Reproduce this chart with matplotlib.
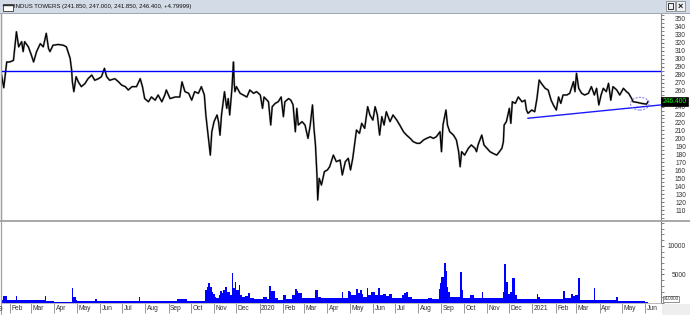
import matplotlib
matplotlib.use("Agg")
import matplotlib.pyplot as plt
import matplotlib.dates as mdates
import matplotlib.patches as mpatches
import matplotlib.transforms as mtransforms
from matplotlib.ticker import MultipleLocator, FixedLocator, FuncFormatter
import numpy as np
import pandas as pd

# ---------------- data ----------------
title = "INDUS TOWERS (241.850, 247.000, 241.850, 246.400, +4.79999)"
last_price = 246.4
last_label = "246.400"
resistance = 284.7
support_days = [725, 903]
support_vals = [225.3, 242.0]
highlight_day = 875
highlight_price = 243.6

# days counted from 2019-01-01
price_days = [19, 22, 26, 30, 35, 39, 42, 46, 48, 50, 55, 59, 62, 66, 71, 75, 79, 82, 84, 88,
              95, 102, 106, 111, 113, 114, 116, 119, 122, 126, 131, 135, 140, 144, 149, 153, 157, 160, 164, 171,
              176, 180, 185, 189, 194, 200, 205, 208, 211, 216, 220, 225, 229, 234, 238, 240, 245, 252, 258, 261,
              265, 270, 274, 278, 283, 287, 291, 293, 295, 299, 301, 304, 308, 310, 312, 314, 318, 321, 323, 325,
              328, 330, 331, 332, 334, 339, 343, 348, 352, 357, 361, 366, 369, 371, 377, 380, 382, 386, 390, 394,
              397, 399, 404, 407, 410, 413, 415, 417, 422, 426, 430, 433, 436, 438, 440, 442, 443, 445, 448, 452,
              456, 459, 464, 468, 473, 476, 480, 484, 487, 490, 493, 495, 499, 502, 506, 510, 513, 517, 520, 523,
              526, 529, 532, 535, 540, 544, 549, 553, 558, 562, 567, 571, 576, 580, 585, 589, 594, 598, 602, 607,
              609, 611, 615, 617, 620, 625, 629, 632, 634, 636, 640, 645, 649, 654, 656, 658, 663, 666, 670, 674,
              678, 683, 685, 690, 692, 693, 696, 700, 702, 704, 708, 712, 717, 721, 723, 725, 730, 734, 737, 740,
              743, 748, 752, 756, 759, 763, 766, 769, 772, 777, 781, 786, 788, 790, 793, 797, 801, 806, 810, 814,
              817, 820, 823, 826, 830, 833, 836, 839, 844, 848, 853, 857, 860, 864, 866, 871, 877, 884, 886]
price_vals = [279.6, 263.7, 296.0, 296.0, 298.0, 334.0, 315.0, 321.5, 309.0, 321.5, 315.0, 304.7, 296.0, 309.0, 319.0, 315.0, 332.0, 313.0, 309.0, 317.0,
              318.0, 317.0, 315.0, 300.6, 286.0, 271.0, 258.7, 277.5, 271.0, 265.0, 269.0, 275.0, 279.6, 273.0, 275.0, 277.5, 288.0, 277.5, 273.0, 275.0,
              271.0, 267.0, 265.0, 260.8, 265.0, 265.0, 275.0, 265.0, 250.0, 246.0, 252.0, 248.0, 254.5, 246.0, 254.5, 260.8, 250.0, 252.0, 252.0, 271.0,
              258.7, 256.6, 248.0, 258.7, 256.6, 265.0, 254.5, 229.4, 212.6, 179.0, 208.4, 221.0, 229.4, 221.0, 204.0, 229.4, 258.7, 237.7, 250.0, 229.4,
              262.9, 296.0, 270.0, 258.7, 265.0, 256.6, 254.5, 252.0, 260.8, 256.6, 258.7, 254.5, 237.7, 252.0, 246.0, 216.8, 239.8, 244.0, 246.0, 252.0,
              227.3, 246.0, 250.0, 248.0, 242.0, 208.4, 237.7, 216.8, 221.0, 216.8, 200.0, 216.8, 242.0, 212.6, 191.7, 154.0, 122.6, 149.8, 141.4, 158.2,
              160.3, 164.4, 179.0, 170.7, 172.8, 154.0, 170.7, 175.0, 160.3, 175.0, 195.9, 210.5, 206.3, 218.9, 212.6, 239.8, 229.4, 223.0, 239.8, 229.4,
              204.2, 227.3, 216.8, 233.5, 221.0, 229.4, 223.0, 216.8, 208.4, 204.2, 200.0, 195.9, 193.8, 193.8, 198.0, 200.0, 202.0, 200.0, 202.0, 208.4,
              183.3, 216.8, 235.6, 216.8, 208.4, 204.2, 198.0, 183.3, 164.4, 183.3, 179.0, 187.5, 191.7, 187.5, 183.3, 191.7, 204.2, 191.7, 187.5, 183.3,
              181.2, 179.0, 181.2, 187.5, 195.9, 216.8, 221.0, 237.7, 218.9, 246.0, 244.0, 252.0, 246.0, 248.0, 235.6, 231.5, 235.6, 233.5, 250.0, 273.3,
              269.0, 262.9, 260.8, 248.0, 242.0, 235.6, 252.0, 244.0, 254.5, 254.5, 256.6, 271.2, 258.7, 281.7, 262.9, 256.6, 254.5, 256.6, 265.0, 254.5,
              262.9, 242.0, 254.5, 262.9, 258.7, 269.2, 248.0, 265.0, 260.8, 254.5, 262.9, 258.7, 256.6, 250.0, 246.0, 245.3, 244.0, 243.0, 246.4]

vol_days = [17, 21, 26, 34, 38, 40, 52, 60, 70, 77, 79, 90, 110, 113, 115, 119, 120, 144, 147, 203,
            205, 254, 268, 292, 294, 296, 299, 301, 303, 305, 307, 310, 312, 314, 316, 319, 321, 323, 325, 328,
            330, 332, 334, 337, 339, 341, 346, 350, 352, 357, 370, 375, 378, 381, 386, 390, 396, 401, 408, 413,
            415, 417, 422, 426, 439, 444, 448, 459, 475, 477, 484, 486, 488, 495, 497, 500, 502, 504, 509, 511,
            515, 520, 524, 526, 531, 535, 539, 542, 556, 559, 561, 564, 569, 591, 596, 605, 607, 609, 611, 613,
            615, 616, 618, 620, 634, 636, 638, 647, 652, 663, 665, 692, 693, 695, 698, 701, 703, 704, 707, 710,
            737, 739, 741, 772, 775, 782, 786, 788, 792, 795, 813, 815, 843, 846, 882]
vol_vals = [520, 1280, 600, 450, 1220, 500, 450, 600, 450, 1220, 350, 250, 230, 2560, 1100, 500, 350, 700, 300, 990,
            350, 640, 350, 2270, 2850, 3550, 2850, 1980, 1510, 1110, 930, 1400, 2100, 1690, 2270, 2850, 1860, 1980, 1400, 5300,
            2560, 3730, 2270, 3150, 1400, 1110, 1280, 1800, 930, 700, 1110, 700, 2970, 2100, 815, 520, 1400, 700, 1400, 2450,
            2100, 1800, 930, 815, 2270, 1110, 815, 815, 1980, 815, 2100, 1860, 1400, 2450, 1690, 2270, 1510, 1110, 2560, 1400,
            1860, 1400, 2680, 1400, 1510, 1220, 1510, 815, 1400, 1690, 1860, 1110, 700, 815, 640, 2450, 3440, 4600, 4600, 7050,
            5590, 2850, 1980, 1110, 5480, 2270, 930, 1400, 930, 1980, 815, 1860, 6820, 3730, 1510, 1860, 13160, 4370, 1400, 700,
            1570, 1110, 700, 2150, 815, 1570, 1220, 1400, 4370, 520, 2680, 460, 990, 350, 115]
vol_end_day = 886

# ---------------- layout helpers ----------------
W, H = 690, 315
fig = plt.figure(figsize=(W / 100, H / 100), dpi=100, facecolor="white")
plt.rcParams["font.family"] = ["Liberation Sans", "DejaVu Sans"]

def fx(x):
    return x / W

def fy(y):
    return 1 - y / H

base = mdates.date2num(pd.Timestamp("2019-01-01"))
x_left_day = 18.3
x_right_day = x_left_day + 660 * 1.341

ax_p = fig.add_axes([fx(1), fy(220), 660 / W, (220 - 14) / H])
ax_v = fig.add_axes([fx(1), fy(303), 660 / W, (303 - 221) / H], sharex=ax_p)

# ---------------- price panel ----------------
pd_num = base + np.array(price_days, dtype=float)
ax_p.plot(pd_num, price_vals, color="#a8a8a8", lw=1.5, zorder=2)
ax_p.plot(pd_num, price_vals, color="black", lw=0.9, zorder=3)
ax_p.axhline(resistance, color="#0000ff", lw=1.0, zorder=4)
ax_p.plot(base + np.array(support_days, dtype=float), support_vals, color="#1a1aff", lw=1.0, zorder=4)
ell = mpatches.Ellipse((base + highlight_day, highlight_price), width=25, height=16, fill=False,
                       ec="#7070ff", ls=(0, (2, 1.5)), lw=0.7, zorder=5)
ax_p.add_patch(ell)

y_bottom = 110 - (220 - 210) / 0.796
y_top = 350 + (19 - 14) / 0.796
ax_p.set_ylim(y_bottom, y_top)
ax_p.set_xlim(base + x_left_day, base + x_right_day)

ax_p.yaxis.tick_right()
ax_p.yaxis.set_major_locator(FixedLocator(list(range(110, 360, 10))))
ax_p.yaxis.set_major_formatter(FuncFormatter(lambda v, p: "" if abs(v - 250) < 1 else f"{v:.0f}"))
ax_p.yaxis.set_minor_locator(MultipleLocator(5))
ax_p.tick_params(axis="y", which="major", length=2.5, width=0.6, color="#555555",
                 labelsize=4.8, labelcolor="#333333", pad=15.5)
ax_p.tick_params(axis="y", which="minor", length=1.8, width=0.5, color="#555555")
for lab in ax_p.get_yticklabels():
    lab.set_horizontalalignment("right")
ax_p.tick_params(axis="x", which="both", bottom=False, labelbottom=False)
for s in ["top", "bottom"]:
    ax_p.spines[s].set_visible(False)
ax_p.spines["left"].set_color("#a0a0a0")
ax_p.spines["right"].set_color("#808080")
ax_p.spines["left"].set_linewidth(1.0)
ax_p.spines["right"].set_linewidth(0.8)

tr = mtransforms.blended_transform_factory(ax_p.transAxes, ax_p.transData)
ax_p.text(1.0 + 1.5 / 660, last_price, last_label, transform=tr, ha="left", va="center",
          color="#00ff00", fontsize=4.8, clip_on=False, zorder=10,
          bbox=dict(boxstyle="square,pad=0.18", fc="black", ec="black", lw=0.5))

# ---------------- volume panel ----------------
vd = np.array(vol_days, dtype=float)
widths = np.diff(np.append(vd, vol_end_day))
ax_v.bar(base + vd, vol_vals, width=widths, align="edge", color="#0000ff", linewidth=0, zorder=2)
ax_v.set_ylim(0, 82 * 174.8)
ax_v.yaxis.tick_right()
ax_v.yaxis.set_major_locator(FixedLocator([5000, 10000]))
ax_v.yaxis.set_minor_locator(MultipleLocator(1000))
ax_v.tick_params(axis="y", which="major", length=2.5, width=0.6, color="#555555",
                 labelsize=4.8, labelcolor="#333333", pad=15.5)
ax_v.tick_params(axis="y", which="minor", length=1.8, width=0.5, color="#555555")
for lab in ax_v.get_yticklabels():
    lab.set_horizontalalignment("right")
ax_v.spines["top"].set_visible(False)
ax_v.spines["left"].set_color("#a0a0a0")
ax_v.spines["right"].set_color("#808080")
ax_v.spines["right"].set_linewidth(0.8)
ax_v.spines["bottom"].set_color("#b0b0b0")
ax_v.spines["bottom"].set_linewidth(0.6)
ax_v.text(1.0 + 2.5 / 660, 700, "x10000",
          transform=mtransforms.blended_transform_factory(ax_v.transAxes, ax_v.transData),
          ha="left", va="center", fontsize=3.4, color="#333333", clip_on=False,
          bbox=dict(boxstyle="square,pad=0.15", fc="white", ec="#666666", lw=0.5))

# month ticks
months = pd.date_range("2019-02-01", "2021-06-01", freq="MS")
mlabels = [str(m.year) if m.month == 1 else m.strftime("%b") for m in months]
ax_v.set_xticks(mdates.date2num(months))
ax_v.set_xticklabels(mlabels)
ax_v.tick_params(axis="x", which="major", direction="out", length=7.5, width=0.6, color="#888888",
                 labelsize=4.8, labelcolor="#333333", pad=-6.2)
offset = mtransforms.ScaledTranslation(1.5 / 100, 0, fig.dpi_scale_trans)
for lab in ax_v.get_xticklabels():
    lab.set_horizontalalignment("left")
    lab.set_transform(lab.get_transform() + offset)
ax_v.set_xlim(base + x_left_day, base + x_right_day)

# partially visible "2019" label at the left edge
fig.text(fx(-11.5), fy(309.5), "2019", fontsize=4.8, color="#333333", ha="left", va="center")

# ---------------- frame decorations ----------------
fig.add_artist(mpatches.Rectangle((0, fy(13)), 1, 13 / H, transform=fig.transFigure,
                                  facecolor="#d3dbe6", edgecolor="none", zorder=0))
fig.add_artist(plt.Line2D([0, 1], [fy(13.3), fy(13.3)], transform=fig.transFigure, color="#9ca6b2", lw=0.7))
fig.text(fx(13.5), fy(6.5), title, fontsize=4.35, color="#111111", ha="left", va="center")
fig.add_artist(mpatches.Rectangle((fx(2.5), fy(11)), 10 / W, 6.5 / H, transform=fig.transFigure,
                                  facecolor="white", edgecolor="#333333", lw=0.6))
fig.add_artist(plt.Line2D([fx(2.5), fx(12.5)], [fy(4.8), fy(4.8)], transform=fig.transFigure, color="#333333", lw=1.0))
for bx in (665.5, 676.0):
    fig.add_artist(mpatches.Rectangle((fx(bx), fy(10.5)), 9 / W, 9 / H, transform=fig.transFigure,
                                      facecolor="#eef0f3", edgecolor="#7a7a7a", lw=0.5))
fig.add_artist(mpatches.Rectangle((fx(667.5), fy(8.5)), 5 / W, 5 / H, transform=fig.transFigure,
                                  facecolor="none", edgecolor="#111111", lw=0.6))
fig.text(fx(680.5), fy(6.2), "\u00d7", fontsize=6.5, fontweight="bold", color="#111111", ha="center", va="center")

fig.add_artist(plt.Line2D([0, 1], [fy(220.6), fy(220.6)], transform=fig.transFigure, color="#a0a0a0", lw=1.3))
fig.add_artist(plt.Line2D([fx(0.5), fx(0.5)], [fy(13.5), fy(315)], transform=fig.transFigure, color="#a0a0a0", lw=0.8))
fig.add_artist(mpatches.Rectangle((fx(661.5), 0), (690 - 661.5) / W, (315 - 303.5) / H, transform=fig.transFigure,
                                  facecolor="#eeeeee", edgecolor="none", zorder=-1))

fig.savefig("out.png", dpi=100, facecolor="white")
